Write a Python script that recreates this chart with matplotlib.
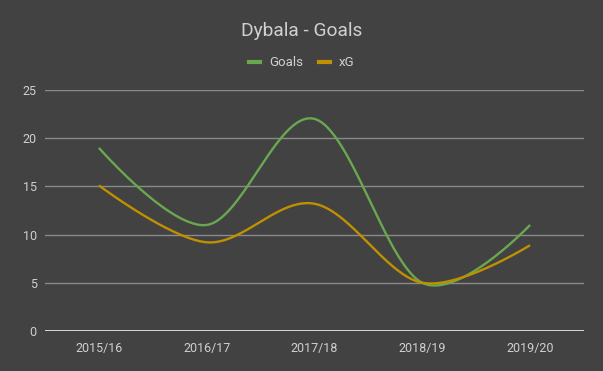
"""Dybala - Goals vs xG per season, dark Google-Sheets-like style."""

import numpy as np
import matplotlib.pyplot as plt
from matplotlib.lines import Line2D

plt.rcParams["font.family"] = ["Roboto", "DejaVu Sans"]

SEASONS = ["2015/16", "2016/17", "2017/18", "2018/19", "2019/20"]
GOALS = [19, 11, 22, 5, 11]
XG = [15.1, 9.2, 13.2, 5.0, 8.9]

BG = "#424242"
GREEN = "#6aa84f"
GOLD = "#bf9000"
TEXT = "#d0d0d0"


def smooth(xs, ys, n=60):
    # bezier curve through the points, same idea as the sheets "smooth" line
    p = np.column_stack([xs, ys]).astype(float)
    out = []
    for i in range(len(p) - 1):
        p0, p3 = p[i], p[i + 1]
        p1 = p0 + (p[i + 1] - p[i - 1]) / 6 if i > 0 else p0
        p2 = p3 - (p[i + 2] - p[i]) / 6 if i + 2 < len(p) else p3
        t = np.linspace(0, 1, n)[:, None]
        seg = ((1 - t) ** 3) * p0 + 3 * ((1 - t) ** 2) * t * p1 + 3 * (1 - t) * t ** 2 * p2 + t ** 3 * p3
        out.append(seg if i == 0 else seg[1:])
    seg = np.vstack(out)
    return seg[:, 0], seg[:, 1]


fig = plt.figure(figsize=(6.03, 3.71), dpi=100, facecolor=BG)
ax = fig.add_axes([45 / 603, 1 - 331 / 371, 539 / 603, 241 / 371], facecolor=BG)

x = np.arange(len(SEASONS))
for vals, color in [(GOALS, GREEN), (XG, GOLD)]:
    sx, sy = smooth(x, vals)
    ax.plot(sx, sy, color=color, lw=1.7, solid_capstyle="butt", zorder=3)

ax.set_xlim(-0.5, len(SEASONS) - 0.5)
ax.set_ylim(0, 25)
ax.set_yticks([0, 5, 10, 15, 20, 25])
ax.set_xticks(x)
ax.set_xticklabels(SEASONS)
ax.grid(axis="y", color="#8a8a8a", lw=1)
ax.axhline(0, color="#f0f0f0", lw=1.2, zorder=2)
for s in ax.spines.values():
    s.set_visible(False)
ax.tick_params(length=0, colors=TEXT, labelsize=9)
ax.tick_params(axis="y", pad=6)
ax.tick_params(axis="x", pad=8)

fig.text(0.5, 1 - 31 / 371, "Dybala - Goals", ha="center", va="center",
         color=TEXT, fontsize=13.8)

handles = [Line2D([], [], color=GREEN, lw=3), Line2D([], [], color=GOLD, lw=3)]
fig.legend(handles, ["Goals", "xG"], loc="center", bbox_to_anchor=(0.5, 1 - 63 / 371),
           ncol=2, frameon=False, fontsize=9.5, labelcolor=TEXT, handlelength=0.83,
           handletextpad=0.68, columnspacing=1.2)

fig.savefig("out.png", dpi=100, facecolor=BG)
